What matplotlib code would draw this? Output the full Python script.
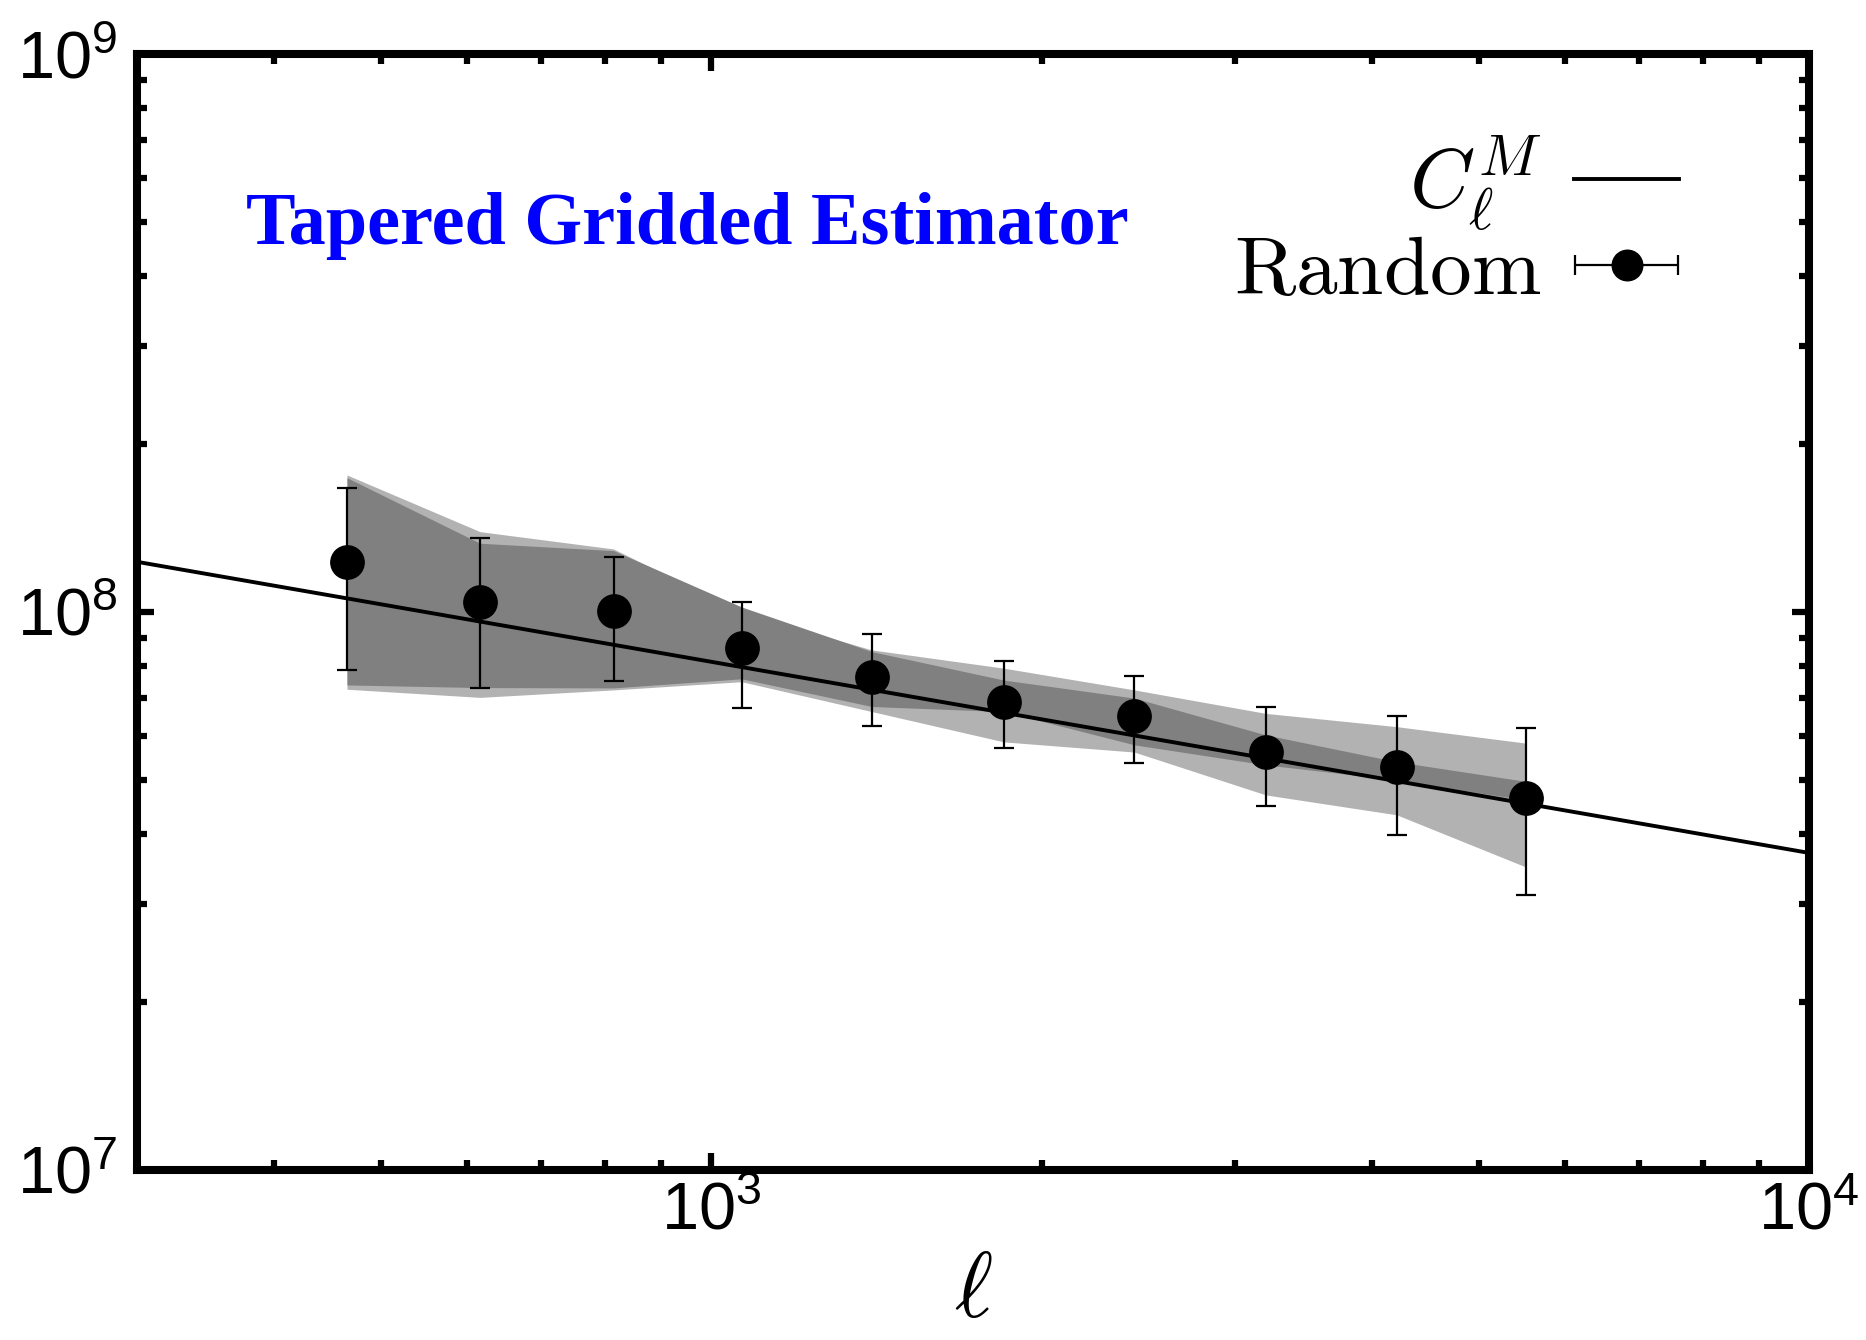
import numpy as n
import matplotlib
matplotlib.use("Agg")
import matplotlib.pyplot as plt
from matplotlib.ticker import LogLocator, LogFormatterMathtext, NullFormatter
from matplotlib.legend_handler import HandlerErrorbar

plt.rcParams["font.family"] = "Liberation Sans"

# multipole bins
ell = n.array([466, 616, 815, 1066, 1401, 1848, 2429, 3201, 4211, 5524])

# random realisations: mean and 1-sigma range
cl_rand = n.array([1.23e8, 1.043e8, 1.005e8, 8.61e7, 7.66e7, 6.91e7, 6.51e7, 5.62e7, 5.27e7, 4.64e7])
cl_hi = n.array([1.67e8, 1.356e8, 1.256e8, 1.043e8, 9.12e7, 8.17e7, 7.68e7, 6.77e7, 6.52e7, 6.19e7])
cl_lo = n.array([7.87e7, 7.30e7, 7.52e7, 6.72e7, 6.25e7, 5.70e7, 5.37e7, 4.49e7, 3.99e7, 3.11e7])

# shaded spreads (light behind, dark in front)
light_hi = n.array([1.76e8, 1.393e8, 1.297e8, 1.00e8, 8.55e7, 7.93e7, 7.25e7, 6.58e7, 6.23e7, 5.82e7])
light_lo = n.array([7.27e7, 7.03e7, 7.25e7, 7.50e7, 6.63e7, 5.85e7, 5.61e7, 4.70e7, 4.33e7, 3.49e7])
dark_hi = n.array([1.74e8, 1.328e8, 1.288e8, 1.021e8, 8.49e7, 7.55e7, 7.01e7, 6.02e7, 5.39e7, 4.97e7])
dark_lo = n.array([7.40e7, 7.32e7, 7.31e7, 7.59e7, 6.77e7, 6.63e7, 5.78e7, 5.32e7, 5.00e7, 4.60e7])

# model power law, end points
ell_model = n.array([300.0, 1.0e4])
cl_model = n.array([1.23e8, 3.70e7])

fig = plt.figure(figsize=(18.66, 13.4), dpi=100)
ax = fig.add_axes([0.0734, 0.1269, 0.8961, 0.8328])

ax.fill_between(ell, light_lo, light_hi, color="#b2b2b2", lw=0, zorder=1)
ax.fill_between(ell, dark_lo, dark_hi, color="#808080", lw=0, zorder=2)

model_line, = ax.plot(ell_model, cl_model, "k-", lw=2.8, zorder=3)

yerr = [cl_rand - cl_lo, cl_hi - cl_rand]
ax.errorbar(ell, cl_rand, yerr=yerr, fmt="o", color="k", ms=24,
            elinewidth=1.6, capsize=7, capthick=1.6, zorder=4)

# proxy so the legend shows a horizontal bar
proxy = ax.errorbar([n.nan], [n.nan], xerr=[1.0], fmt="o", color="k", ms=22,
                    elinewidth=1.6, capsize=7, capthick=1.6)

ax.set_xscale("log")
ax.set_yscale("log")
ax.set_xlim(300, 1e4)
ax.set_ylim(1e7, 1e9)

for a in (ax.xaxis, ax.yaxis):
    a.set_major_locator(LogLocator(base=10))
    a.set_minor_locator(LogLocator(base=10, subs=n.arange(2, 10)))
    a.set_major_formatter(LogFormatterMathtext())
    a.set_minor_formatter(NullFormatter())

ax.tick_params(which="both", direction="in", top=True, right=True, width=4.5)
ax.tick_params(which="major", length=12, labelsize=48)
ax.tick_params(which="minor", length=7)
ax.tick_params(axis="y", pad=14)
ax.tick_params(axis="x", pad=8)
for s in ax.spines.values():
    s.set_linewidth(5.8)

ax.set_xlabel(r"$\ell$", fontsize=66, math_fontfamily="cm", labelpad=5)

ax.text(0.065, 0.846, "Tapered Gridded Estimator", transform=ax.transAxes,
        color="blue", fontsize=53.5, fontweight="bold", family="Liberation Serif",
        ha="left", va="center")

leg = ax.legend([model_line, proxy], [r"$C_\ell^M$", r"$\mathrm{Random}$"],
                loc="upper right", bbox_to_anchor=(0.922, 0.928), frameon=False,
                fontsize=60, markerfirst=False, handlelength=1.25,
                handletextpad=0.4, labelspacing=0.0, borderpad=0, borderaxespad=0,
                handler_map={proxy: HandlerErrorbar(xerr_size=0.62, numpoints=1)})
for t in leg.get_texts():
    t.set_math_fontfamily("cm")

fig.savefig("out.png", dpi=100)
